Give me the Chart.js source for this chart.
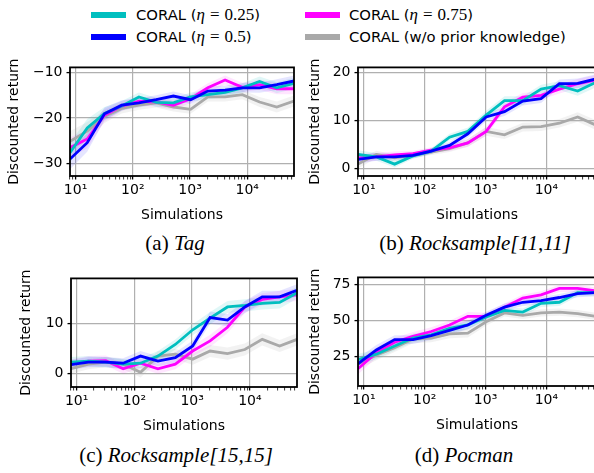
<!DOCTYPE html>
<html>
<head>
<meta charset="utf-8">
<script src="https://cdn.jsdelivr.net/npm/chart.js@4.4.1/dist/chart.umd.min.js"></script>
<style>
  body { margin: 0; width: 594px; height: 473px; overflow: hidden; background: #fff; position: relative; font-family: "DejaVu Sans", sans-serif; }
  canvas { position: absolute; }
  .sw { position: absolute; width: 35px; height: 6px; }
  .lt { position: absolute; font-size: 14.8px; line-height: 20px; white-space: nowrap; color: #000; }
  .m { font-family: "Liberation Serif", serif; font-size: 17px; }
  .cap { position: absolute; font-family: "Liberation Serif", serif; font-size: 21px; line-height: 24px; white-space: nowrap; transform: translateX(-50%); }
</style>
</head>
<body>
<!-- legend -->
<div class="sw" style="left:91px;top:12px;background:#00bfbf"></div>
<div class="lt" style="left:136px;top:5px">CORAL (<span class="m"><i>η</i><span style="margin:0 5px">=</span>0.25</span>)</div>
<div class="sw" style="left:91px;top:34px;background:#0000ff"></div>
<div class="lt" style="left:136px;top:27px">CORAL (<span class="m"><i>η</i><span style="margin:0 5px">=</span>0.5</span>)</div>
<div class="sw" style="left:305px;top:12px;background:#ff00ff"></div>
<div class="lt" style="left:349px;top:5px">CORAL (<span class="m"><i>η</i><span style="margin:0 5px">=</span>0.75</span>)</div>
<div class="sw" style="left:305px;top:34px;background:#a9a9a9"></div>
<div class="lt" style="left:349px;top:27px">CORAL (w/o prior knowledge)</div>

<canvas id="tag" width="300" height="175" style="left:0;top:55px"></canvas>
<canvas id="rs11" width="296" height="175" style="left:300px;top:55px"></canvas>
<canvas id="rs15" width="300" height="175" style="left:0;top:266px"></canvas>
<canvas id="poc" width="296" height="175" style="left:300px;top:265px"></canvas>

<div class="cap" style="left:175px;top:231px">(a) <i>Tag</i></div>
<div class="cap" style="left:475px;top:231px">(b) <i>Rocksample[11,11]</i></div>
<div class="cap" style="left:176px;top:443px">(c) <i>Rocksample[15,15]</i></div>
<div class="cap" style="left:464px;top:443px">(d) <i>Pocman</i></div>

<script>
// number of simulations (x values)
const sims = [8, 16, 32, 64, 128, 256, 512, 1024, 2048, 4096, 8192, 16384, 32768, 65536]
const xTickValues = [10, 100, 1000, 10000]
const xTickLabels = ["10¹", "10²", "10³", "10⁴"]

// (a) Tag
const tagEta025 = [-27.6, -22.2, -19.0, -17.4, -15.4, -16.6, -16.7, -15.4, -14.9, -14.4, -13.4, -12.0, -13.4, -12.4]
const tagEta05 = [-29.0, -25.4, -19.1, -17.2, -16.7, -16.0, -15.2, -16.0, -14.1, -13.9, -13.4, -13.4, -12.7, -11.9]
const tagEta075 = [-26.5, -24.6, -19.4, -17.4, -16.3, -16.5, -17.2, -15.8, -13.4, -11.7, -13.3, -12.7, -13.6, -13.6]
const tagNoPrior = [-25.1, -22.9, -19.7, -17.9, -17.2, -16.7, -17.6, -18.1, -15.4, -15.4, -14.9, -16.5, -17.6, -16.3]
const tagSpread = [2.2, 2.0, 1.4, 1.1, 1.0, 1.0, 1.0, 1.0, 1.0, 1.0, 1.0, 1.1, 1.2, 1.2]
const tagYTicks = [-30, -20, -10]

// (b) Rocksample[11,11]
const rs11Eta025 = [2.9, 2.4, 0.9, 2.6, 3.6, 6.5, 7.7, 11.1, 14.1, 14.1, 16.5, 17.2, 16.1, 17.9]
const rs11Eta05 = [1.9, 2.4, 2.4, 2.7, 3.6, 4.8, 7.2, 10.7, 11.8, 14.0, 14.5, 17.6, 17.7, 18.6]
const rs11Eta075 = [2.2, 2.4, 2.8, 3.1, 3.8, 4.3, 5.3, 7.7, 12.8, 14.8, 15.2, 16.5, 17.6, 18.4]
const rs11NoPrior = [0.9, 2.9, 2.2, 2.7, 3.4, 4.1, 5.3, 7.7, 7.0, 8.6, 8.7, 9.4, 10.7, 9.0]
const rs11Spread = [0.9, 0.8, 0.7, 0.6, 0.6, 0.7, 0.8, 0.9, 0.9, 0.9, 0.9, 0.9, 1.0, 1.0]
const rs11YTicks = [0, 10, 20]

// (c) Rocksample[15,15]
const rs15Eta025 = [2.3, 2.5, 2.3, 1.9, 2.1, 3.5, 5.8, 8.7, 11.0, 13.2, 13.5, 13.9, 14.1, 16.0]
const rs15Eta05 = [1.8, 2.3, 2.3, 2.1, 3.5, 2.5, 3.2, 5.5, 11.1, 10.6, 13.2, 15.2, 15.2, 16.5]
const rs15Eta075 = [1.9, 2.5, 2.6, 1.0, 2.1, 1.0, 1.9, 4.5, 6.5, 9.2, 13.2, 14.7, 15.2, 15.6]
const rs15NoPrior = [1.0, 1.9, 2.3, 1.9, 0.3, 3.5, 3.9, 2.9, 4.5, 4.0, 4.8, 6.8, 5.5, 6.8]
const rs15Spread = [1.0, 1.0, 1.0, 1.0, 1.0, 1.0, 1.0, 1.1, 1.2, 1.2, 1.2, 1.2, 1.2, 1.2]
const rs15YTicks = [0, 10]

// (d) Pocman
const pocEta025 = [23.0, 26.8, 32.4, 38.0, 40.2, 44.7, 47.0, 52.6, 57.1, 55.9, 62.0, 62.7, 69.4, 69.4]
const pocEta05 = [20.1, 29.7, 36.9, 36.9, 39.6, 43.2, 47.0, 53.7, 59.3, 62.7, 63.8, 66.0, 68.7, 69.4]
const pocEta075 = [16.7, 27.9, 35.1, 39.1, 42.5, 47.0, 53.0, 53.0, 59.3, 65.6, 67.8, 72.3, 72.3, 70.5]
const pocNoPrior = [20.1, 26.1, 31.3, 37.3, 38.0, 40.9, 41.4, 49.2, 55.3, 53.7, 55.3, 55.9, 54.8, 53.0]
const pocSpread = [4.0, 3.5, 3.0, 3.0, 3.0, 3.0, 3.0, 2.5, 2.5, 2.5, 2.5, 2.5, 2.5, 2.5]
const pocYTicks = [25, 50, 75]

const colors = {
  eta025: "#00bfbf",
  eta05: "#0000ff",
  eta075: "#ff00ff",
  noPrior: "#a9a9a9",
}
const bandColors = {
  eta025: "rgba(0, 191, 191, 0.12)",
  eta05: "rgba(0, 0, 255, 0.10)",
  eta075: "rgba(255, 0, 255, 0.10)",
  noPrior: "rgba(169, 169, 169, 0.15)",
}

const font = { family: "DejaVu Sans", size: 14 }

// major + minor ticks for the log axis
const xAllTicks = []
;[1, 10, 100, 1000, 10000].forEach((d) => {
  for (let m = 1; m <= 9; m++) {
    const v = m * d
    if (v >= 8 && v <= 65536) xAllTicks.push(v)
  }
})

// black box around the plot area
const framePlugin = {
  id: "frame",
  afterDraw(chart) {
    const { ctx, chartArea: a } = chart
    ctx.save()
    ctx.strokeStyle = "#000"
    ctx.lineWidth = 1.8
    ctx.strokeRect(a.left, a.top, a.right - a.left, a.bottom - a.top)
    ctx.restore()
  },
}

function points(values) {
  return values.map((v, i) => ({ x: sims[i], y: v }))
}

function makePanel(id, series, spread, yTicks, yMin, yMax, yWidth, titlePad, padRight) {
  const lines = []
  const bands = []
  series.forEach((s) => {
    lines.push({
      data: points(s.values),
      borderColor: colors[s.key],
      borderWidth: 2.8,
      pointRadius: 0,
      tension: 0,
      fill: false,
    })
    bands.push({
      data: points(s.values.map((v, i) => v + spread[i])),
      borderWidth: 0,
      pointRadius: 0,
      fill: false,
    })
    bands.push({
      data: points(s.values.map((v, i) => v - spread[i])),
      borderWidth: 0,
      pointRadius: 0,
      fill: "-1",
      backgroundColor: bandColors[s.key],
    })
  })

  new Chart(document.getElementById(id), {
    type: "line",
    data: { datasets: lines.concat(bands) },
    options: {
      responsive: false,
      animation: false,
      layout: { padding: { top: 10, right: padRight, bottom: 0, left: 0 } },
      plugins: { legend: { display: false }, tooltip: { enabled: false } },
      scales: {
        x: {
          type: "logarithmic",
          min: 8,
          max: 65536,
          afterBuildTicks: (ax) => {
            ax.ticks = xAllTicks.map((v) => ({ value: v }))
          },
          afterFit: (ax) => {
            ax.height = 54
          },
          border: { display: false },
          grid: {
            color: (c) => (c.tick && xTickValues.includes(c.tick.value) ? "#b0b0b0" : "rgba(0,0,0,0)"),
            lineWidth: 1.2,
            tickLength: 3.5,
            tickColor: "#000",
            tickWidth: (c) => (c.tick && xTickValues.includes(c.tick.value) ? 1.3 : 0.8),
          },
          ticks: {
            autoSkip: false,
            maxRotation: 0,
            padding: 2,
            color: "#000",
            font: font,
            callback: (v) => {
              const i = xTickValues.indexOf(v)
              return i >= 0 ? xTickLabels[i] : ""
            },
          },
          title: { display: true, text: "Simulations", color: "#000", font: font, padding: { top: 0, bottom: 6 } },
        },
        y: {
          min: yMin,
          max: yMax,
          afterBuildTicks: (ax) => {
            ax.ticks = yTicks.map((v) => ({ value: v }))
          },
          afterFit: (ax) => {
            ax.width = yWidth
          },
          border: { display: false },
          grid: { color: "#b0b0b0", lineWidth: 1.2, tickLength: 3.5, tickColor: "#000", tickWidth: 1.3 },
          ticks: {
            padding: 4,
            color: "#000",
            font: font,
            callback: (v) => String(v).replace("-", "\u2212"),
          },
          title: { display: true, text: "Discounted return", color: "#000", font: font, padding: { top: titlePad, bottom: 0 } },
        },
      },
    },
    plugins: [framePlugin],
  })
}

makePanel("tag", [
  { key: "eta05", values: tagEta05 },
  { key: "eta025", values: tagEta025 },
  { key: "eta075", values: tagEta075 },
  { key: "noPrior", values: tagNoPrior },
], tagSpread, tagYTicks, -32.7, -8.93, 70, 6, 6)

makePanel("rs11", [
  { key: "eta05", values: rs11Eta05 },
  { key: "eta025", values: rs11Eta025 },
  { key: "eta075", values: rs11Eta075 },
  { key: "noPrior", values: rs11NoPrior },
], rs11Spread, rs11YTicks, -1.57, 21.0, 58, 7, 0)

makePanel("rs15", [
  { key: "eta05", values: rs15Eta05 },
  { key: "eta025", values: rs15Eta025 },
  { key: "eta075", values: rs15Eta075 },
  { key: "noPrior", values: rs15NoPrior },
], rs15Spread, rs15YTicks, -2.6, 18.84, 71, 18, 3)

makePanel("poc", [
  { key: "eta05", values: pocEta05 },
  { key: "eta025", values: pocEta025 },
  { key: "eta075", values: pocEta075 },
  { key: "noPrior", values: pocNoPrior },
], pocSpread, pocYTicks, 4.8, 79.9, 58, 7, 0)
</script>
</body>
</html>
